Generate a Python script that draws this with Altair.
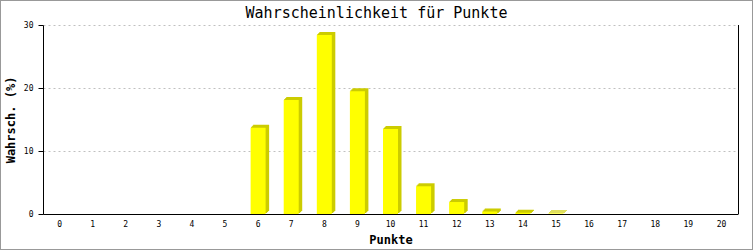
import altair as alt
import pandas as pd

punkte = list(range(0, 21))
wahrsch = [0, 0, 0, 0, 0, 0, 13.7, 18.1, 28.4, 19.5, 13.5, 4.4, 1.9, 0.4, 0.2, 0.1,
           0, 0, 0, 0, 0]
y_ticks = [0, 10, 20, 30]

df = pd.DataFrame({"Punkte": punkte, "Wahrsch": wahrsch})

W, H = 695, 189
MONO = "DejaVu Sans Mono"

x_enc = alt.X("Punkte:O", title="Punkte",
              axis=alt.Axis(labelAngle=0, tickSize=0, domainColor="black",
                            labelFont=MONO, labelFontSize=8, labelColor="black",
                            labelPadding=6, titleFont=MONO, titleFontSize=12,
                            titleFontWeight="bold", titleColor="black",
                            titlePadding=6))
y_enc = alt.Y("Wahrsch:Q", title="Wahrsch. (%)",
              scale=alt.Scale(domain=[0, 30], nice=False),
              axis=alt.Axis(values=y_ticks, tickSize=5, tickColor="black",
                            domainColor="black", labelFont=MONO, labelFontSize=8,
                            labelColor="black", labelPadding=5,
                            grid=True, gridColor="#c0c0c0", gridDash=[2, 3],
                            titleFont=MONO, titleFontSize=12,
                            titleFontWeight="bold", titleColor="black",
                            titlePadding=6))

base = alt.Chart(df)

shadows = [
    base.mark_bar(color="#cccc00", size=16, xOffset=k, yOffset=-k)
    .encode(x=x_enc, y=y_enc)
    for k in (1, 2, 3)
]
face = base.mark_bar(color="#ffff00", size=15).encode(x=x_enc, y=y_enc)

right_border = base.mark_rule(color="black", strokeWidth=1).encode(
    x=alt.value(W + 0.5), y=alt.value(0), y2=alt.value(H))

frame = base.mark_rect(fill=None, stroke="#999999", strokeWidth=1, clip=False).encode(
    x=alt.value(-42.5), x2=alt.value(709.5), y=alt.value(-24.5), y2=alt.value(224.5))

chart = alt.layer(*shadows, face, right_border, frame).properties(
    width=W, height=H,
    title=alt.TitleParams("Wahrscheinlichkeit für Punkte", font=MONO, fontSize=15,
                          fontWeight="normal", color="black", anchor="middle",
                          dx=-14, offset=-21),
    autosize=alt.AutoSizeParams(type="none"),
    padding={"left": 43, "top": 25, "right": 15, "bottom": 36},
    background="white",
).configure_view(stroke=None)

chart.save("out.html", embed_options={"renderer": "svg", "actions": False})
